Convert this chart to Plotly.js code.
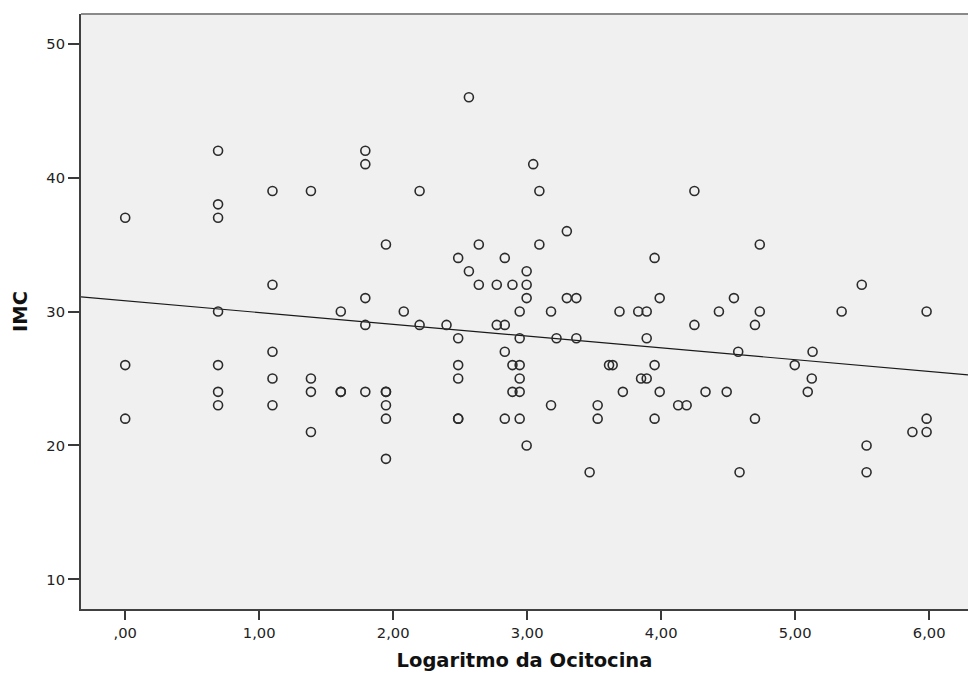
<!DOCTYPE html>
<html>
<head>
<meta charset="utf-8">
<script src="https://cdn.plot.ly/plotly-3.0.1.min.js"></script>
<style>
  html, body { margin: 0; padding: 0; background: #ffffff; }
  #chart { width: 968px; height: 673px; }
</style>
</head>
<body>
<div id="chart"></div>
<script>
// Logaritmo da Ocitocina (x) vs IMC (y)
const logOcitocina = [
  0.000, 0.000, 0.000,
  0.693, 0.693, 0.693, 0.693, 0.693, 0.693, 0.693,
  1.099, 1.099, 1.099, 1.099, 1.099,
  1.386, 1.386, 1.386, 1.386,
  1.609, 1.609, 1.609,
  1.792, 1.792, 1.792, 1.792, 1.792,
  1.946, 1.946, 1.946, 1.946, 1.946, 1.946,
  2.079,
  2.197, 2.197,
  2.398,
  2.485, 2.485, 2.485, 2.485, 2.485, 2.485,
  2.565, 2.565,
  2.639, 2.639,
  2.773, 2.773,
  2.833, 2.833, 2.833, 2.833,
  2.890, 2.890, 2.890,
  2.944, 2.944, 2.944, 2.944, 2.944, 2.944,
  2.996, 2.996, 2.996, 2.996,
  3.045,
  3.091, 3.091,
  3.178, 3.178,
  3.219,
  3.296, 3.296,
  3.367, 3.367,
  3.466,
  3.526, 3.526,
  3.611,
  3.638,
  3.689,
  3.714,
  3.829,
  3.850,
  3.892, 3.892, 3.892,
  3.951, 3.951, 3.951,
  3.989, 3.989,
  4.127,
  4.190,
  4.248, 4.248,
  4.331,
  4.431,
  4.489,
  4.543,
  4.575,
  4.585,
  4.700, 4.700,
  4.736, 4.736,
  4.997,
  5.094,
  5.124,
  5.130,
  5.347,
  5.497,
  5.533, 5.533,
  5.875,
  5.981, 5.981, 5.981
];
const imc = [
  37, 26, 22,
  42, 38, 37, 30, 26, 24, 23,
  39, 32, 27, 25, 23,
  39, 25, 24, 21,
  30, 24, 24,
  42, 41, 31, 29, 24,
  35, 24, 24, 23, 22, 19,
  30,
  39, 29,
  29,
  34, 28, 26, 25, 22, 22,
  46, 33,
  35, 32,
  32, 29,
  34, 29, 27, 22,
  32, 26, 24,
  30, 28, 26, 25, 24, 22,
  33, 32, 31, 20,
  41,
  39, 35,
  30, 23,
  28,
  36, 31,
  31, 28,
  18,
  23, 22,
  26,
  26,
  30,
  24,
  30,
  25,
  30, 28, 25,
  34, 26, 22,
  31, 24,
  23,
  23,
  39, 29,
  24,
  30,
  24,
  31,
  27,
  18,
  29, 22,
  35, 30,
  26,
  24,
  25,
  27,
  30,
  32,
  20, 18,
  21,
  30, 22, 21
];

// Linear fit line (as drawn in the reference)
const fitIntercept = 30.80;
const fitSlope = -0.879;

// Axis ticks
const xTickVals = [0, 1, 2, 3, 4, 5, 6];
const xTickText = [",00", "1,00", "2,00", "3,00", "4,00", "5,00", "6,00"];
const yTickVals = [10, 20, 30, 40, 50];
const yTickText = ["10", "20", "30", "40", "50"];

const xRange = [-0.33, 6.29];
const yRange = [7.79, 52.21];

const fitX = xRange.slice();
const fitY = fitX.map(v => fitIntercept + fitSlope * v);

const FONT = "DejaVu Sans, Arial, sans-serif";

const traces = [
  {
    type: "scatter",
    mode: "lines",
    x: fitX,
    y: fitY,
    line: { color: "#1a1a1a", width: 1.1 },
    hoverinfo: "skip",
    showlegend: false
  },
  {
    type: "scatter",
    mode: "markers",
    x: logOcitocina,
    y: imc,
    marker: {
      symbol: "circle-open",
      size: 9,
      color: "#2b2b2b",
      line: { color: "#2b2b2b", width: 1.6 }
    },
    showlegend: false
  }
];

const layout = {
  width: 968,
  height: 673,
  margin: { l: 81, r: 0, t: 14, b: 64, pad: 0 },
  paper_bgcolor: "#ffffff",
  plot_bgcolor: "#f0f0f0",
  showlegend: false,
  font: { family: FONT, color: "#222222" },
  xaxis: {
    range: xRange,
    tickmode: "array",
    tickvals: xTickVals,
    ticktext: xTickText,
    ticks: "outside",
    ticklen: 9,
    tickwidth: 2,
    tickcolor: "#3a3a3a",
    tickfont: { family: FONT, size: 14.7, color: "#222222" },
    showgrid: false,
    zeroline: false,
    showline: true,
    linecolor: "#404040",
    linewidth: 2,
    automargin: false,
    title: {
      text: "Logaritmo da Ocitocina",
      font: { family: FONT, size: 19.5, color: "#111111", weight: "bold" },
      standoff: 14
    }
  },
  yaxis: {
    range: yRange,
    tickmode: "array",
    tickvals: yTickVals,
    ticktext: yTickText,
    ticks: "outside",
    ticklen: 11,
    tickwidth: 2,
    tickcolor: "#3a3a3a",
    tickfont: { family: FONT, size: 14.7, color: "#222222" },
    showgrid: false,
    zeroline: false,
    showline: true,
    linecolor: "#404040",
    linewidth: 2,
    automargin: false,
    title: {
      text: "IMC",
      font: { family: FONT, size: 19.5, color: "#111111", weight: "bold" },
      standoff: 14
    }
  },
  shapes: [
    {
      type: "line",
      xref: "paper", yref: "paper",
      x0: 0, x1: 1, y0: 1, y1: 1,
      line: { color: "#8a8a8a", width: 2 }
    }
  ]
};

Plotly.newPlot("chart", traces, layout, { displayModeBar: false, staticPlot: true });
</script>
</body>
</html>
